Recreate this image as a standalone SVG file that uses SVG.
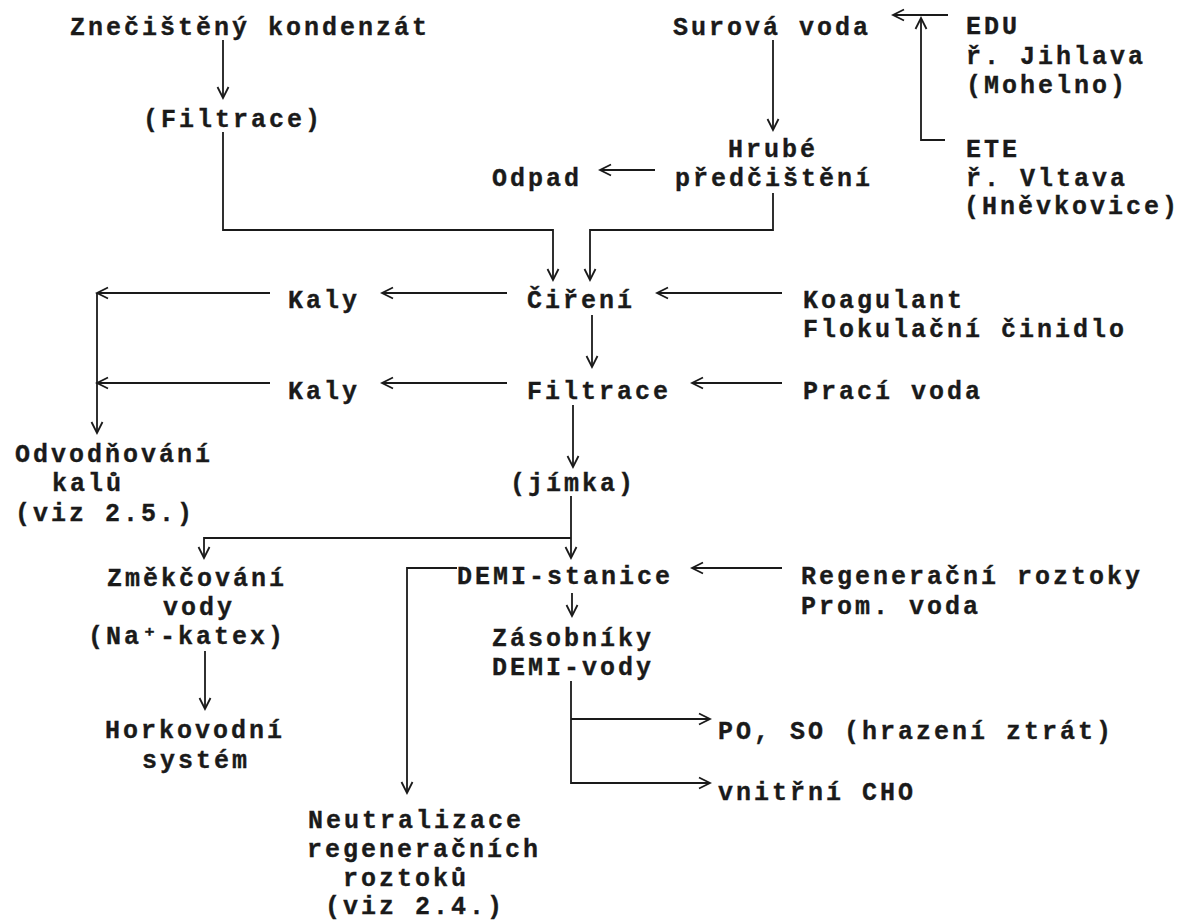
<svg xmlns="http://www.w3.org/2000/svg" width="1183" height="923" viewBox="0 0 1183 923">
<style>
text{font-family:"Liberation Mono","DejaVu Sans Mono",monospace;font-weight:bold;font-size:25px;letter-spacing:3px;fill:#1a1a1a;stroke:#1a1a1a;stroke-width:0.35}
.c path,.c line,.c polyline{stroke:#1a1a1a;stroke-width:1.8;fill:none}
.a{marker-end:url(#ah)}
</style>
<defs>
<marker id="ah" viewBox="-12 -7 14 14" refX="0" refY="0" markerWidth="14" markerHeight="14" markerUnits="userSpaceOnUse" orient="auto">
<path d="M-11,-5.5 L0,0 L-11,5.5" fill="none" stroke="#1a1a1a" stroke-width="1.8"/>
</marker>
</defs>
<rect width="1183" height="923" fill="#fff"/>
<g id="n-kondenzat"><text x="70" y="35">Znečištěný kondenzát</text></g>
<g id="n-filtrace1"><text x="143" y="127">(Filtrace)</text></g>
<g id="n-surova"><text x="673" y="35">Surová voda</text></g>
<g id="n-edu"><text x="966" y="34">EDU</text><text x="966" y="64">ř. Jihlava</text><text x="966" y="93">(Mohelno)</text></g>
<g id="n-hrube"><text x="728" y="157">Hrubé</text><text x="675" y="186">předčištění</text></g>
<g id="n-odpad"><text x="492" y="186">Odpad</text></g>
<g id="n-ete"><text x="966" y="157">ETE</text><text x="966" y="186">ř. Vltava</text><text x="964" y="214">(Hněvkovice)</text></g>
<g id="n-cireni"><text x="527" y="308">Čiření</text></g>
<g id="n-kaly1"><text x="288" y="308">Kaly</text></g>
<g id="n-koagulant"><text x="803" y="308">Koagulant</text><text x="803" y="337">Flokulační činidlo</text></g>
<g id="n-filtrace"><text x="527" y="399">Filtrace</text></g>
<g id="n-kaly2"><text x="288" y="399">Kaly</text></g>
<g id="n-praci"><text x="803" y="399">Prací voda</text></g>
<g id="n-odvodnovani"><text x="15" y="462">Odvodňování</text><text x="52" y="491">kalů</text><text x="15" y="521">(viz 2.5.)</text></g>
<g id="n-jimka"><text x="510" y="491">(jímka)</text></g>
<g id="n-zmekcovani"><text x="107" y="586">Změkčování</text><text x="163" y="615">vody</text><text x="88" y="644">(Na⁺-katex)</text></g>
<g id="n-horkovodni"><text x="105" y="738">Horkovodní</text><text x="142" y="768">systém</text></g>
<g id="n-demi"><text x="457" y="584">DEMI-stanice</text></g>
<g id="n-regen"><text x="801" y="584">Regenerační roztoky</text><text x="801" y="614">Prom. voda</text></g>
<g id="n-zasobniky"><text x="492" y="646">Zásobníky</text><text x="492" y="675">DEMI-vody</text></g>
<g id="n-po"><text x="718" y="739">PO, SO (hrazení ztrát)</text></g>
<g id="n-cho"><text x="718" y="800">vnitřní CHO</text></g>
<g id="n-neutralizace"><text x="308" y="828">Neutralizace</text><text x="307" y="857">regeneračních</text><text x="343" y="886">roztoků</text><text x="325" y="914">(viz 2.4.)</text></g>
<g id="connectors" class="c">
<line class="a" x1="223" y1="40" x2="223" y2="98"/>
<polyline class="a" points="223,132 223,230 553,230 553,280"/>
<line class="a" x1="773" y1="40" x2="773" y2="130"/>
<polyline class="a" points="773,193 773,230 590,230 590,280"/>
<line class="a" x1="655" y1="170" x2="600" y2="170"/>
<line class="a" x1="948" y1="15" x2="893" y2="15"/>
<polyline class="a" points="945,140 921,140 921,18"/>
<line class="a" x1="782" y1="293" x2="657" y2="293"/>
<line class="a" x1="507" y1="293" x2="382" y2="293"/>
<line class="a" x1="270" y1="293" x2="97" y2="293"/>
<line class="a" x1="97" y1="293" x2="97" y2="433"/>
<line class="a" x1="270" y1="383" x2="97" y2="383"/>
<line class="a" x1="592" y1="315" x2="592" y2="367"/>
<line class="a" x1="507" y1="383" x2="382" y2="383"/>
<line class="a" x1="782" y1="383" x2="692" y2="383"/>
<line class="a" x1="573" y1="405" x2="573" y2="467"/>
<line class="a" x1="571" y1="496" x2="571" y2="558"/>
<polyline class="a" points="571,538 204,538 204,558"/>
<polyline class="a" points="457,568 407,568 407,793"/>
<line class="a" x1="782" y1="568" x2="692" y2="568"/>
<line class="a" x1="572" y1="593" x2="572" y2="616"/>
<polyline class="a" points="571,681 571,783 710,783"/>
<line class="a" x1="571" y1="719" x2="710" y2="719"/>
<line class="a" x1="205" y1="651" x2="205" y2="709"/>
</g>
</svg>
